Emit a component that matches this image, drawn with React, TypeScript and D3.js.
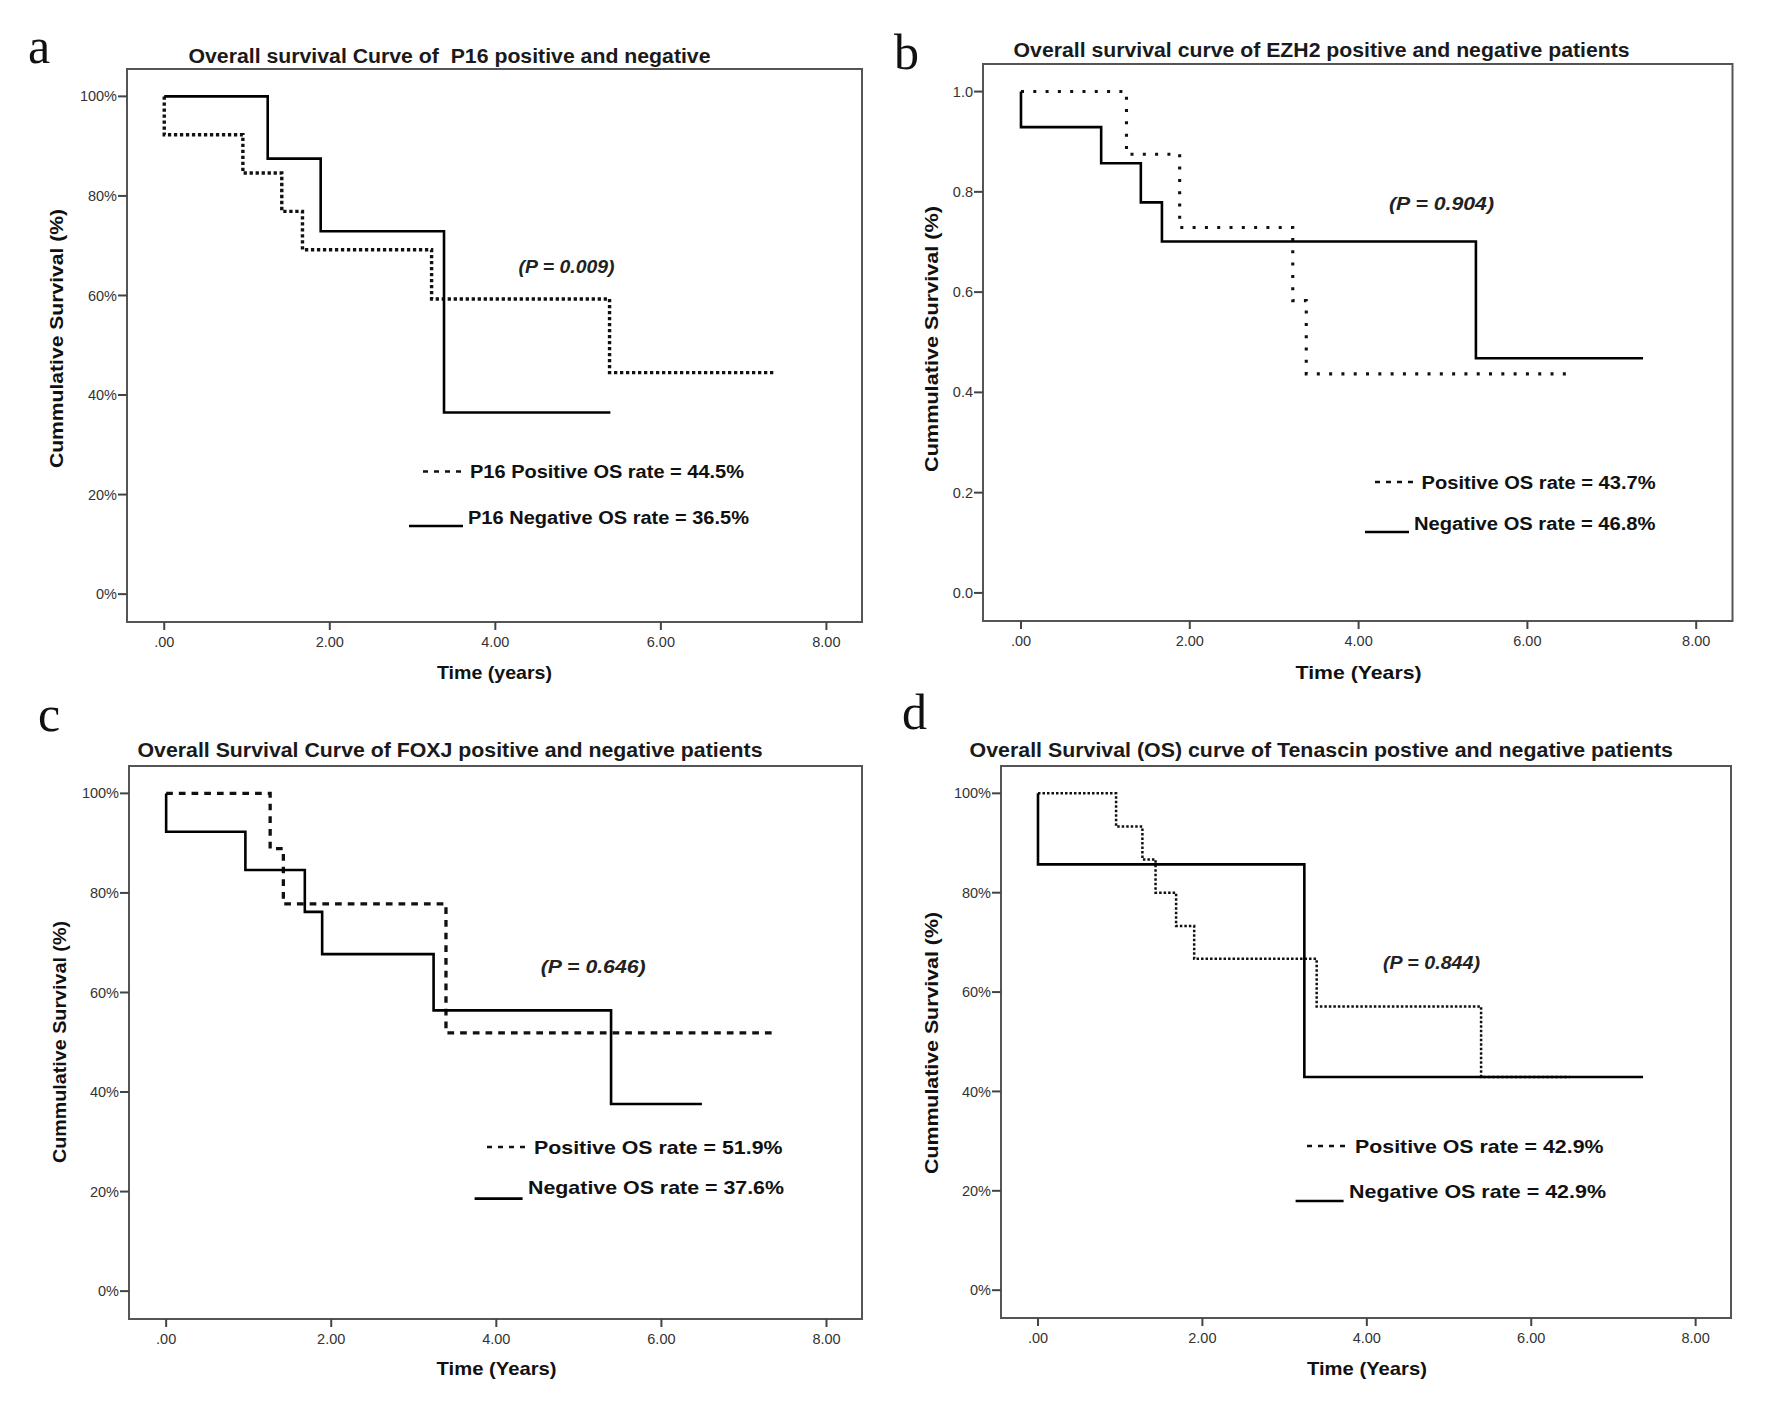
import * as d3 from "d3";

// ---- data ----
const xTickValues = [0, 2, 4, 6, 8];
const xTickLabels = [".00", "2.00", "4.00", "6.00", "8.00"];
const yTickValues = [0, 0.2, 0.4, 0.6, 0.8, 1.0];
const pctTickLabels = ["0%", "20%", "40%", "60%", "80%", "100%"];
const decTickLabels = ["0.0", "0.2", "0.4", "0.6", "0.8", "1.0"];

// a: P16
const p16PosTimes = [0, 0.95, 1.42, 1.67, 3.23, 5.38];
const p16PosSurv = [0.923, 0.846, 0.769, 0.692, 0.593, 0.445];
const p16PosEnd = 7.36;
const p16NegTimes = [1.25, 1.89, 3.38];
const p16NegSurv = [0.875, 0.729, 0.365];
const p16NegEnd = 5.39;

// b: EZH2
const ezh2PosTimes = [1.25, 1.88, 3.22, 3.38];
const ezh2PosSurv = [0.875, 0.729, 0.583, 0.437];
const ezh2PosEnd = 6.47;
const ezh2NegTimes = [0, 0.95, 1.42, 1.67, 5.39];
const ezh2NegSurv = [0.929, 0.857, 0.779, 0.701, 0.468];
const ezh2NegEnd = 7.37;

// c: FOXJ
const foxjPosTimes = [1.26, 1.42, 3.39];
const foxjPosSurv = [0.889, 0.778, 0.519];
const foxjPosEnd = 7.38;
const foxjNegTimes = [0, 0.96, 1.68, 1.89, 3.24, 5.39];
const foxjNegSurv = [0.923, 0.846, 0.762, 0.677, 0.564, 0.376];
const foxjNegEnd = 6.49;

// d: Tenascin
const tenPosTimes = [0.95, 1.27, 1.43, 1.68, 1.9, 3.39, 5.39];
const tenPosSurv = [0.933, 0.867, 0.8, 0.733, 0.667, 0.571, 0.429];
const tenPosEnd = 6.47;
const tenNegTimes = [0, 3.24];
const tenNegSurv = [0.857, 0.429];
const tenNegEnd = 7.36;

const SANS = "'Liberation Sans', Arial, sans-serif";
const SERIF = "'Liberation Serif', 'Times New Roman', serif";

type Pt = [number, number];
const kmPoints = (times: number[], surv: number[], end: number): Pt[] => [
  [0, 1],
  ...times.map((t, i) => [t, surv[i]] as Pt),
  [end, surv[surv.length - 1]],
];

const panels = [
  {
    letter: "a", lx: 28, ly: 63,
    l: 127, t: 69, r: 862, b: 622,
    title: "Overall survival Curve of  P16 positive and negative", tcx: 449.5, ty: 62.5, tlen: 522,
    ylab: "Cummulative Survival (%)", ycx: 56.5, ycy: 338.5, ylen: 259,
    xlab: "Time (years)", xcx: 494.5, xy: 678.5, xlen: 115,
    yLabels: pctTickLabels,
    pText: "(P = 0.009)", px: 518.6, py: 272.5, plen: 96,
    pos: kmPoints(p16PosTimes, p16PosSurv, p16PosEnd), posDash: "3.3,2.7", posW: 3.4,
    neg: kmPoints(p16NegTimes, p16NegSurv, p16NegEnd),
    posLeg: "P16 Positive OS rate = 44.5%", pl: [423, 465, 471.5], ptx: 470, pty: 478.3, ptlen: 274,
    negLeg: "P16 Negative OS rate = 36.5%", nl: [409, 463, 526], ntx: 468, nty: 524.3, ntlen: 281,
    fs: 18,
  },
  {
    letter: "b", lx: 894, ly: 69,
    l: 983, t: 64, r: 1732.5, b: 621,
    title: "Overall survival curve of EZH2 positive and negative patients", tcx: 1321.6, ty: 57, tlen: 616,
    ylab: "Cummulative Survival (%)", ycx: 931, ycy: 339, ylen: 266,
    xlab: "Time (Years)", xcx: 1358.6, xy: 678.5, xlen: 126,
    yLabels: decTickLabels,
    pText: "(P = 0.904)", px: 1389, py: 209.5, plen: 105,
    pos: kmPoints(ezh2PosTimes, ezh2PosSurv, ezh2PosEnd), posDash: "3,9.3", posW: 3.1,
    neg: kmPoints(ezh2NegTimes, ezh2NegSurv, ezh2NegEnd),
    posLeg: "Positive OS rate = 43.7%", pl: [1375, 1414, 482], ptx: 1421.6, pty: 488.5, ptlen: 234,
    negLeg: "Negative OS rate = 46.8%", nl: [1365, 1409, 532], ntx: 1414, nty: 529.5, ntlen: 241.5,
    fs: 18,
  },
  {
    letter: "c", lx: 38, ly: 731,
    l: 129, t: 766, r: 862, b: 1319,
    title: "Overall Survival Curve of FOXJ positive and negative patients", tcx: 450, ty: 756.5, tlen: 625,
    ylab: "Cummulative Survival (%)", ycx: 59, ycy: 1042, ylen: 242,
    xlab: "Time (Years)", xcx: 496.6, xy: 1375, xlen: 120,
    yLabels: pctTickLabels,
    pText: "(P = 0.646)", px: 540.7, py: 972.5, plen: 105,
    pos: kmPoints(foxjPosTimes, foxjPosSurv, foxjPosEnd), posDash: "6.7,6", posW: 3.3,
    neg: kmPoints(foxjNegTimes, foxjNegSurv, foxjNegEnd),
    posLeg: "Positive OS rate = 51.9%", pl: [487, 528, 1147], ptx: 534, pty: 1153.5, ptlen: 248.5,
    negLeg: "Negative OS rate = 37.6%", nl: [474.6, 522.6, 1198.6], ntx: 528, nty: 1194, ntlen: 256,
    fs: 19,
  },
  {
    letter: "d", lx: 902, ly: 729,
    l: 1001, t: 766, r: 1731, b: 1318,
    title: "Overall Survival (OS) curve of Tenascin postive and negative patients", tcx: 1321.3, ty: 756.5, tlen: 703.4,
    ylab: "Cummulative Survival (%)", ycx: 931, ycy: 1043, ylen: 262,
    xlab: "Time (Years)", xcx: 1367, xy: 1375, xlen: 120,
    yLabels: pctTickLabels,
    pText: "(P = 0.844)", px: 1383, py: 969, plen: 97,
    pos: kmPoints(tenPosTimes, tenPosSurv, tenPosEnd), posDash: "2.5,2", posW: 2.5,
    neg: kmPoints(tenNegTimes, tenNegSurv, tenNegEnd),
    posLeg: "Positive OS rate = 42.9%", pl: [1307, 1350, 1146], ptx: 1355, pty: 1152.5, ptlen: 248.5,
    negLeg: "Negative OS rate = 42.9%", nl: [1295.6, 1343.6, 1201], ntx: 1349, nty: 1197.5, ntlen: 257,
    fs: 19,
  },
];

type PanelCfg = (typeof panels)[number];

const Panel = ({ p }: { p: PanelCfg }) => {
  const x = d3.scaleLinear().domain([-0.45, 8.43]).range([p.l, p.r]);
  const y = d3.scaleLinear().domain([-0.056, 1.055]).range([p.b, p.t]);
  const line = d3
    .line<Pt>()
    .x((d) => x(d[0]))
    .y((d) => y(d[1]))
    .curve(d3.curveStepAfter);

  return (
    <g>
      <text x={p.lx} y={p.ly} fontFamily={SERIF} fontSize={50} fill="#111">
        {p.letter}
      </text>
      <text
        x={p.tcx - p.tlen / 2} y={p.ty} fontFamily={SANS} fontWeight="bold" fontSize={19.5}
        fill="#1a1a1a" textLength={p.tlen} lengthAdjust="spacingAndGlyphs"
        style={{ whiteSpace: "pre" }}
      >
        {p.title}
      </text>

      {/* frame */}
      <rect x={p.l} y={p.t} width={p.r - p.l} height={p.b - p.t} fill="none" stroke="#555" strokeWidth={2} />

      {/* y ticks */}
      {yTickValues.map((v, i) => (
        <g key={"y" + i}>
          <line x1={p.l - 9} x2={p.l} y1={y(v)} y2={y(v)} stroke="#444" strokeWidth={2} />
          <text x={p.l - 10} y={y(v)} dy="0.35em" textAnchor="end" fontFamily={SANS} fontSize={14.5} fill="#333">
            {p.yLabels[i]}
          </text>
        </g>
      ))}
      {/* x ticks */}
      {xTickValues.map((v, i) => (
        <g key={"x" + i}>
          <line x1={x(v)} x2={x(v)} y1={p.b} y2={p.b + 8} stroke="#444" strokeWidth={2} />
          <text x={x(v)} y={p.b + 25} textAnchor="middle" fontFamily={SANS} fontSize={14.5} fill="#333">
            {xTickLabels[i]}
          </text>
        </g>
      ))}

      <text
        transform={`translate(${p.ycx},${p.ycy}) rotate(-90)`} x={-p.ylen / 2} dy="0.35em"
        fontFamily={SANS} fontWeight="bold" fontSize={19} fill="#111"
        textLength={p.ylen} lengthAdjust="spacingAndGlyphs"
      >
        {p.ylab}
      </text>
      <text
        x={p.xcx - p.xlen / 2} y={p.xy} fontFamily={SANS} fontWeight="bold" fontSize={18.5} fill="#111"
        textLength={p.xlen} lengthAdjust="spacingAndGlyphs"
      >
        {p.xlab}
      </text>

      {/* curves */}
      <path d={line(p.pos) ?? ""} fill="none" stroke="#111" strokeWidth={p.posW} strokeDasharray={p.posDash} />
      <path d={line(p.neg) ?? ""} fill="none" stroke="#000" strokeWidth={2.6} />

      <text
        x={p.px} y={p.py} fontFamily={SANS} fontWeight="bold" fontStyle="italic" fontSize={18} fill="#222"
        textLength={p.plen} lengthAdjust="spacingAndGlyphs"
      >
        {p.pText}
      </text>

      {/* legend */}
      <line x1={p.pl[0]} x2={p.pl[1]} y1={p.pl[2]} y2={p.pl[2]} stroke="#111" strokeWidth={2.6} strokeDasharray="5,6" />
      <text
        x={p.ptx} y={p.pty} fontFamily={SANS} fontWeight="bold" fontSize={p.fs} fill="#111"
        textLength={p.ptlen} lengthAdjust="spacingAndGlyphs"
      >
        {p.posLeg}
      </text>
      <line x1={p.nl[0]} x2={p.nl[1]} y1={p.nl[2]} y2={p.nl[2]} stroke="#000" strokeWidth={2.6} />
      <text
        x={p.ntx} y={p.nty} fontFamily={SANS} fontWeight="bold" fontSize={p.fs} fill="#111"
        textLength={p.ntlen} lengthAdjust="spacingAndGlyphs"
      >
        {p.negLeg}
      </text>
    </g>
  );
};

export default function App() {
  return (
    <svg
      width={1772}
      height={1423}
      style={{ position: "absolute", left: 0, top: 0, background: "#fff" }}
    >
      <rect width={1772} height={1423} fill="#fff" />
      {panels.map((p) => (
        <Panel key={p.letter} p={p} />
      ))}
    </svg>
  );
}
